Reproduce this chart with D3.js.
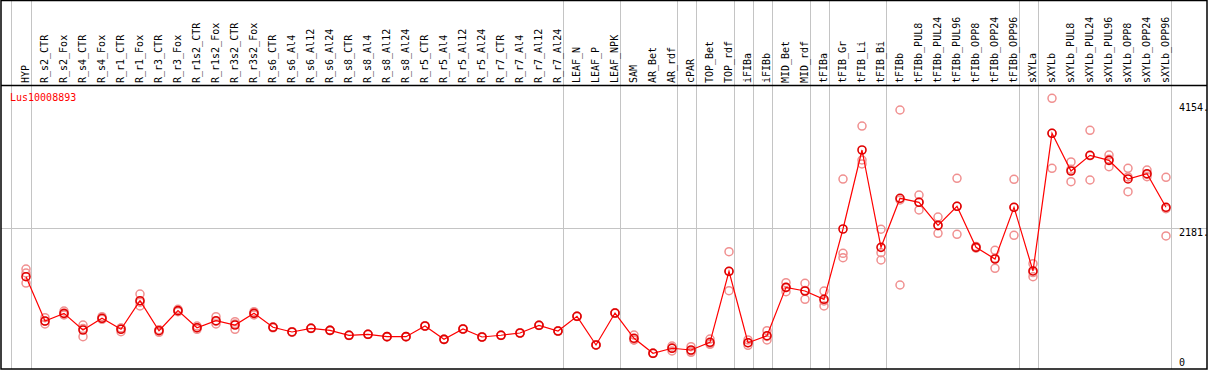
<!DOCTYPE html>
<html><head><meta charset="utf-8">
<script src="https://cdn.jsdelivr.net/npm/d3@7"></script>
<style>body{margin:0;background:#fff}svg{display:block}</style>
</head><body>
<script>
const geneName = "Lus10008893";
const categories = ["HYP","R_s2_CTR","R_s2_Fox","R_s4_CTR","R_s4_Fox","R_r1_CTR","R_r1_Fox","R_r3_CTR","R_r3_Fox","R_r1s2_CTR","R_r1s2_Fox","R_r3s2_CTR","R_r3s2_Fox","R_s6_CTR","R_s6_Al4","R_s6_Al12","R_s6_Al24","R_s8_CTR","R_s8_Al4","R_s8_Al12","R_s8_Al24","R_r5_CTR","R_r5_Al4","R_r5_Al12","R_r5_Al24","R_r7_CTR","R_r7_Al4","R_r7_Al12","R_r7_Al24","LEAF_N","LEAF_P","LEAF_NPK","SAM","AR_Bet","AR_rdf","cPAR","TOP_Bet","TOP_rdf","iFIBa","iFIBb","MID_Bet","MID_rdf","tFIBa","tFIB_Gr","tFIB_Li","tFIB_Bi","tFIBb","tFIBb_PUL8","tFIBb_PUL24","tFIBb_PUL96","tFIBb_OPP8","tFIBb_OPP24","tFIBb_OPP96","sXYLa","sXYLb","sXYLb_PUL8","sXYLb_PUL24","sXYLb_PUL96","sXYLb_OPP8","sXYLb_OPP24","sXYLb_OPP96"];
const means = [1418,719,840,577,762,588,1039,566,882,613,724,656,840,620,546,604,572,494,509,472,472,640,430,593,467,494,530,651,561,793,341,845,446,210,289,262,383,1503,377,487,1250,1192,1061,2170,3416,1881,2654,2591,2228,2528,1881,1697,2512,1508,3679,3085,3332,3253,2959,3042,2512];
const rep1 = [1539,771,877,656,787,604,1145,577,904,640,787,708,866,625,550,608,575,498,512,476,475,643,433,596,470,497,533,654,564,796,344,848,498,213,325,314,435,1812,420,566,1323,1313,1192,2958,3794,1796,4047,2706,2359,2970,1895,1834,2954,1623,4231,3227,3726,3337,3127,3100,2985];
const rep2 = [1476,672,814,472,746,550,956,541,866,588,672,588,814,612,540,600,569,490,506,468,469,637,427,590,464,491,527,648,558,790,338,842,420,207,246,225,351,1197,336,420,1181,1061,956,1787,3258,1681,1287,2470,2102,2086,1870,1550,2071,1418,3127,2916,2943,3153,2758,2995,2060];
const rep3 = [1318,715,830,600,755,610,1015,580,876,612,713,672,840,623,548,604,572,494,509,472,472,640,430,593,467,494,530,651,561,793,341,845,420,210,296,247,363,1500,375,475,1246,1202,1035,1717,3196,2166,2628,2597,2223,2528,1878,1707,2511,1483,3679,3112,3327,3269,2992,3031,2491];
const groupEnds = ["HYP","R_r7_Al24","LEAF_NPK","AR_rdf","cPAR","TOP_rdf","iFIBa","iFIBb","MID_rdf","tFIBa","tFIB_Bi","tFIBb_OPP96","sXYLa","sXYLb_OPP96"];
const yTicks = [4154, 2181, 0];
const yTickLabels = ["4154.", "2181.", "0"];
const gridValue = 2181;

const W = 1209, H = 370;
const svg = d3.select("body").append("svg").attr("width", W).attr("height", H);
const font = "'DejaVu Sans Mono', 'Liberation Mono', monospace";

const x = d3.scaleBand().domain(categories).range([11.7, 11.7 + 19 * categories.length]).padding(0);
const px = c => x(c) + 14.3;
const y = d3.scaleLinear().domain([0, 4154]).range([366.6, 103.2]);

// grid: vertical group separators
svg.append("line").attr("x1", 11.5).attr("x2", 11.5).attr("y1", 0).attr("y2", 369).attr("stroke", "#c4c4c4");
svg.selectAll("line.vg").data(groupEnds).join("line").attr("class", "vg")
  .attr("x1", d => Math.round(x(d) + x.bandwidth()) + 0.5)
  .attr("x2", d => Math.round(x(d) + x.bandwidth()) + 0.5)
  .attr("y1", 0).attr("y2", 369).attr("stroke", "#c4c4c4");
svg.append("line").attr("x1", 1).attr("x2", 1207)
  .attr("y1", Math.round(y(gridValue)) + 0.5).attr("y2", Math.round(y(gridValue)) + 0.5)
  .attr("stroke", "#c4c4c4");

// border and header separator
svg.append("rect").attr("x", 1).attr("y", 0.5).attr("width", 1206).attr("height", 368.5)
  .attr("fill", "none").attr("stroke", "#000").attr("stroke-width", 1.5);
svg.append("line").attr("x1", 1).attr("x2", 1207).attr("y1", 85.5).attr("y2", 85.5)
  .attr("stroke", "#000").attr("stroke-width", 1.5);

// header labels
svg.selectAll("text.cat").data(categories).join("text").attr("class", "cat")
  .attr("transform", d => `translate(${px(d) + 3},83) rotate(-90)`)
  .attr("font-family", font).attr("font-size", 10).attr("fill", "#000")
  .text(d => d);

// gene name
svg.append("text").attr("x", 10).attr("y", 101).attr("font-family", font)
  .attr("font-size", 10).attr("fill", "#ff0000").text(geneName);

// y tick labels
svg.selectAll("text.yt").data(yTicks).join("text").attr("class", "yt")
  .attr("x", 1179).attr("y", d => Math.min(y(d) + 7.5, 365.5))
  .attr("font-family", font).attr("font-size", 10).attr("fill", "#000")
  .text((d, i) => yTickLabels[i]);

// replicate points
const reps = [];
categories.forEach((c, i) => { [rep1, rep2, rep3].forEach(r => reps.push({c, v: r[i]})); });
svg.selectAll("circle.rep").data(reps).join("circle").attr("class", "rep")
  .attr("cx", d => px(d.c)).attr("cy", d => y(d.v)).attr("r", 4)
  .attr("fill", "none").attr("stroke", "#f09090").attr("stroke-width", 1.5);

// mean line
const line = d3.line().x((d, i) => px(categories[i])).y(d => y(d));
svg.append("path").datum(means).attr("d", line).attr("fill", "none")
  .attr("stroke", "#ff0000").attr("stroke-width", 1.2);

svg.selectAll("circle.mean").data(means).join("circle").attr("class", "mean")
  .attr("cx", (d, i) => px(categories[i])).attr("cy", d => y(d)).attr("r", 4)
  .attr("fill", "none").attr("stroke", "#e00000").attr("stroke-width", 1.6);
</script>
</body></html>
